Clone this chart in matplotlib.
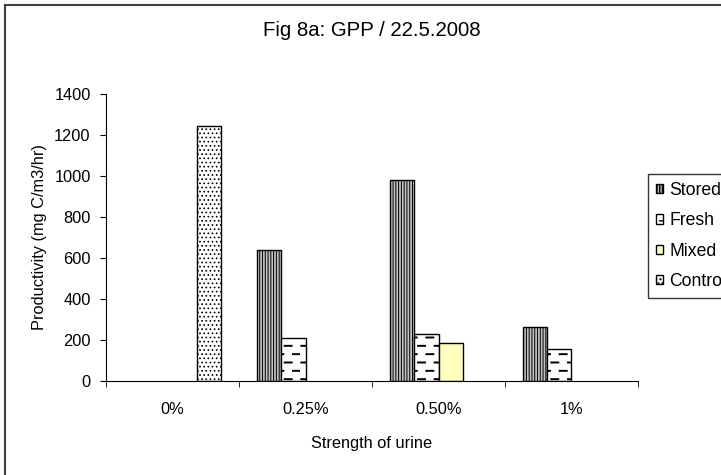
import numpy as np
import matplotlib
matplotlib.use("Agg")
import matplotlib.pyplot as plt
import matplotlib.hatch as mhatch
from matplotlib.patches import Rectangle

# data
categories = ["0%", "0.25%", "0.50%", "1%"]
series_names = ["Stored", "Fresh", "Mixed", "Control"]
stored = [np.nan, 640, 980, 262]
fresh = [np.nan, 210, 228, 155]
mixed = [np.nan, np.nan, 185, np.nan]
control = [1245, np.nan, np.nan, np.nan]
yticks = [0, 200, 400, 600, 800, 1000, 1200, 1400]


# Excel style dashed fill: swap the plain horizontal hatch for short staggered dashes
class DashHatch(mhatch.HatchPatternBase):
    def __init__(self, hatch, density):
        self.rows = 2 * density if "-" in hatch else 0
        self.per_row = density
        self.num_vertices = self.rows * self.per_row * 2

    def set_vertices_and_codes(self, vertices, codes):
        k = 0
        for r in range(self.rows):
            y = (r + 0.5) / self.rows
            off = 0.5 if r % 2 else 0.0
            for d in range(self.per_row):
                x0 = (d + off + 0.08) / self.per_row
                vertices[k] = (x0, y)
                vertices[k + 1] = (x0 + 0.42 / self.per_row, y)
                codes[k] = 1
                codes[k + 1] = 2
                k += 2


mhatch._hatch_types[0] = DashHatch

plt.rcParams["font.family"] = ["Liberation Sans", "DejaVu Sans"]
plt.rcParams["font.size"] = 11.8

W, H = 721, 475
fig = plt.figure(figsize=(W / 100, H / 100), dpi=100)
ax = fig.add_axes([106 / W, 1 - 381 / H, 532 / W, 287 / H])

values = [stored, fresh, mixed, control]
styles = [
    dict(facecolor="#c0c0c0", hatch="||||||"),
    dict(facecolor="white", hatch="-"),
    dict(facecolor="#ffffc0", hatch=None),
    dict(facecolor="white", hatch="...."),
]
hatch_lw = [0.7, 1.4, 0.7, 0.7]
w = 1 / 5.5
x = np.arange(len(categories))
handles = []
for i, (vals, st) in enumerate(zip(values, styles)):
    with plt.rc_context({"hatch.linewidth": hatch_lw[i]}):
        b = ax.bar(x + (i - 1.5) * w, vals, width=w, edgecolor="black",
                   linewidth=1.0, label=series_names[i], **st)
    for p in b:
        if hasattr(p, "set_hatch_linewidth"):
            p.set_hatch_linewidth(hatch_lw[i])
    handles.append(b)

ax.set_xlim(-0.5, len(categories) - 0.5)
ax.set_ylim(0, 1400)
ax.set_yticks(yticks)
ax.set_xticks(x)
ax.set_xticklabels(categories)
ax.set_xticks(np.arange(len(categories) + 1) - 0.5, minor=True)
ax.tick_params(axis="x", which="major", length=0, pad=15)
ax.tick_params(axis="x", which="minor", length=4, direction="out")
ax.tick_params(axis="y", length=4, direction="out", pad=7)
ax.spines["top"].set_visible(False)
ax.spines["right"].set_visible(False)
ax.set_xlabel("Strength of urine", labelpad=14)
ax.set_ylabel("Productivity (mg C/m3/hr)", labelpad=5)

fig.text(372 / W, 1 - 31 / H, "Fig 8a: GPP / 22.5.2008", ha="center",
         va="center", fontsize=14.7)

# legend runs off the right edge of the picture, as in the reference
leg = fig.legend(handles=handles, loc="upper left",
                 bbox_to_anchor=(648 / W, 1 - 174 / H),
                 bbox_transform=fig.transFigure, borderaxespad=0,
                 frameon=True, fancybox=False, fontsize=12.7,
                 handlelength=0.42, handleheight=0.42, handletextpad=0.35,
                 labelspacing=0.76, borderpad=0.45)
leg.get_frame().set_edgecolor("black")
leg.get_frame().set_linewidth(1.0)

# outer chart-area frame, cut off at the right and bottom like the reference
fig.patches.append(Rectangle((5 / W, -0.2), 1.2, 1.2 - 5 / H,
                             transform=fig.transFigure, fill=False,
                             edgecolor="#404040", linewidth=1.5))

fig.savefig("out.png", dpi=100)
